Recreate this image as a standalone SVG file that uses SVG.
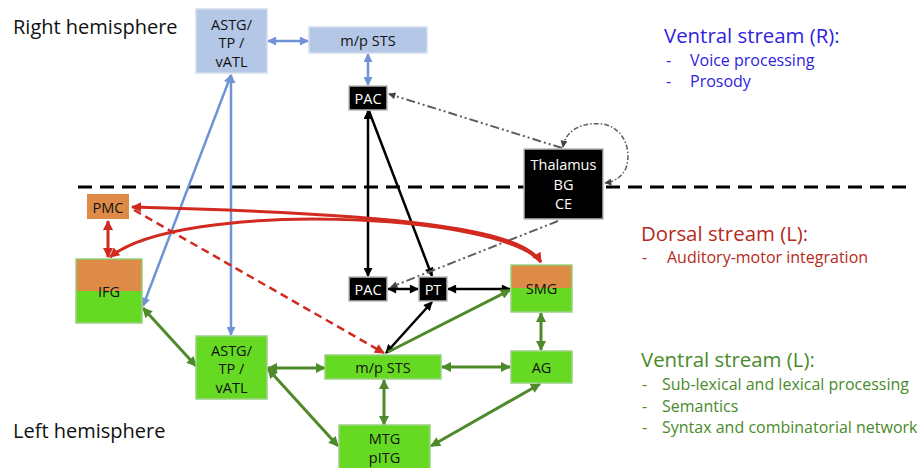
<svg xmlns="http://www.w3.org/2000/svg" width="917" height="468" viewBox="0 0 917 468">
<style>
  text { font-family: "Open Sans", "Liberation Sans", sans-serif; }
  .node { font-size: 14.5px; text-anchor: middle; fill: #111; }
  .wt { fill: #fff; }
  .blue { fill: #B4C7E7; stroke: #D3DCEC; stroke-width: 1.5; }
  .green { fill: #66DA22; stroke: #9BCF85; stroke-width: 1.5; }
  .orange { fill: #DE8B47; stroke: none; }
  .blk { fill: #000; stroke: #B8B8B8; stroke-width: 1.5; }
  .hemi { font-size: 20px; fill: #111; }
  .h1 { font-size: 20.4px; }
  .li { font-size: 16px; }
  .cb { stroke: #6F93D5; stroke-width: 2.5; fill: none; }
  .cg { stroke: #4E8A2A; stroke-width: 3; fill: none; }
  .ck { stroke: #000; stroke-width: 2.5; fill: none; }
  .cr { stroke: #D12A1F; stroke-width: 3; fill: none; }
  .crd { stroke: #D12A1F; stroke-width: 2.5; fill: none; stroke-dasharray: 8 5; }
  .cd { stroke: #5E5E5E; stroke-width: 2; fill: none; stroke-dasharray: 9 3 2 3 2 3; }
  .cdl { stroke: #5E5E5E; stroke-width: 1.5; fill: none; stroke-dasharray: 5 2 1.5 2; }
</style>
<defs>
  <marker id="ab" viewBox="0 0 10 10" refX="9" refY="5" markerWidth="10" markerHeight="9" markerUnits="userSpaceOnUse" orient="auto-start-reverse"><path d="M0,0 L10,5 L0,10 z" fill="#6F93D5"/></marker>
  <marker id="ag" viewBox="0 0 10 10" refX="9" refY="5" markerWidth="11" markerHeight="10" markerUnits="userSpaceOnUse" orient="auto-start-reverse"><path d="M0,0 L10,5 L0,10 z" fill="#4E8A2A"/></marker>
  <marker id="ak" viewBox="0 0 10 10" refX="9" refY="5" markerWidth="10" markerHeight="9" markerUnits="userSpaceOnUse" orient="auto-start-reverse"><path d="M0,0 L10,5 L0,10 z" fill="#000"/></marker>
  <marker id="ar" viewBox="0 0 10 10" refX="9" refY="5" markerWidth="11" markerHeight="10" markerUnits="userSpaceOnUse" orient="auto-start-reverse"><path d="M0,0 L10,5 L0,10 z" fill="#D12A1F"/></marker>
  <marker id="ad" viewBox="0 0 10 10" refX="9" refY="5" markerWidth="8" markerHeight="7" markerUnits="userSpaceOnUse" orient="auto-start-reverse"><path d="M0,0 L10,5 L0,10 z" fill="#444"/></marker>
</defs>

<!-- hemisphere divider -->
<line x1="78" y1="187" x2="906" y2="187" stroke="#000" stroke-width="3" stroke-dasharray="14 8"/>

<text class="hemi" x="13" y="34">Right hemisphere</text>
<text class="hemi" x="13" y="438">Left hemisphere</text>

<g id="legend-ventral-r">
  <text class="h1" x="664" y="43" fill="#2F22E0">Ventral stream (R):</text>
  <text class="li" x="666" y="66" fill="#2F22E0">-</text>
  <text class="li" x="690" y="66" fill="#2F22E0">Voice processing</text>
  <text class="li" x="666" y="87" fill="#2F22E0">-</text>
  <text class="li" x="690" y="87" fill="#2F22E0">Prosody</text>
</g>
<g id="legend-dorsal">
  <text class="h1" x="641" y="241" fill="#B42A22">Dorsal stream (L):</text>
  <text class="li" x="642" y="263" fill="#B42A22">-</text>
  <text class="li" x="667" y="263" fill="#B42A22">Auditory-motor integration</text>
</g>
<g id="legend-ventral-l">
  <text class="h1" x="641" y="367" fill="#4A8A2A">Ventral stream (L):</text>
  <text class="li" x="642" y="390" fill="#4A8A2A">-</text>
  <text class="li" x="662" y="390" fill="#4A8A2A">Sub-lexical and lexical processing</text>
  <text class="li" x="642" y="412" fill="#4A8A2A">-</text>
  <text class="li" x="662" y="412" fill="#4A8A2A">Semantics</text>
  <text class="li" x="642" y="433" fill="#4A8A2A">-</text>
  <text class="li" x="662" y="433" fill="#4A8A2A">Syntax and combinatorial network</text>
</g>

<g id="connectors">
  <!-- blue (right ventral) -->
  <line class="cb" x1="268" y1="41" x2="308" y2="41" marker-start="url(#ab)" marker-end="url(#ab)"/>
  <line class="cb" x1="368" y1="54" x2="368" y2="85" marker-start="url(#ab)" marker-end="url(#ab)"/>
  <line class="cb" x1="231" y1="75" x2="231" y2="335" marker-start="url(#ab)" marker-end="url(#ab)"/>
  <line class="cb" x1="231" y1="75" x2="143" y2="306" marker-start="url(#ab)" marker-end="url(#ab)"/>

  <!-- black (auditory) -->
  <line class="ck" x1="368" y1="111" x2="368" y2="276" marker-start="url(#ak)" marker-end="url(#ak)"/>
  <line class="ck" x1="369" y1="111" x2="432" y2="276" marker-end="url(#ak)"/>
  <line class="ck" x1="388" y1="289" x2="418" y2="289" marker-start="url(#ak)" marker-end="url(#ak)"/>
  <line class="ck" x1="448" y1="289" x2="510" y2="289" marker-start="url(#ak)" marker-end="url(#ak)"/>
  <line class="ck" x1="432" y1="302" x2="386" y2="353" marker-start="url(#ak)" marker-end="url(#ak)"/>

  <!-- grey dash-dot (thalamus) -->
  <line class="cd" x1="562" y1="148" x2="389" y2="94" marker-end="url(#ad)"/>
  <line class="cd" x1="558" y1="221" x2="391" y2="287" marker-end="url(#ad)"/>
  <path class="cdl" d="M563,147 C566,128 585,122 603,124 C624,128 632,150 626,168 C621,179 612,182 605,183" marker-start="url(#ad)" marker-end="url(#ad)"/>

  <!-- red (dorsal) -->
  <path class="cr" d="M541,262 C520,228 400,214 132,207" marker-start="url(#ar)" marker-end="url(#ar)"/>
  <path class="cr" d="M541,262 C500,212 180,200 110,257" marker-end="url(#ar)"/>
  <line class="cr" x1="108" y1="221" x2="108" y2="257" marker-start="url(#ar)" marker-end="url(#ar)"/>
  <line class="crd" x1="134" y1="210" x2="384" y2="353" marker-end="url(#ar)"/>

  <!-- green (left ventral) -->
  <line class="cg" x1="388" y1="352" x2="510" y2="290" marker-end="url(#ag)"/>
  <line class="cg" x1="143" y1="308" x2="196" y2="366" marker-start="url(#ag)" marker-end="url(#ag)"/>
  <line class="cg" x1="268" y1="368" x2="325" y2="368" marker-start="url(#ag)" marker-end="url(#ag)"/>
  <line class="cg" x1="268" y1="369" x2="338" y2="446" marker-start="url(#ag)" marker-end="url(#ag)"/>
  <line class="cg" x1="384" y1="380" x2="384" y2="425" marker-start="url(#ag)" marker-end="url(#ag)"/>
  <line class="cg" x1="442" y1="367" x2="510" y2="367" marker-start="url(#ag)" marker-end="url(#ag)"/>
  <line class="cg" x1="431" y1="446" x2="540" y2="384" marker-start="url(#ag)" marker-end="url(#ag)"/>
  <line class="cg" x1="541" y1="313" x2="541" y2="350" marker-start="url(#ag)" marker-end="url(#ag)"/>
</g>

<g id="r-astg">
  <rect class="blue" x="196" y="9" width="71" height="64"/>
  <text class="node" x="231.5" y="30">ASTG/</text>
  <text class="node" x="231.5" y="48">TP /</text>
  <text class="node" x="231.5" y="67">vATL</text>
</g>
<g id="r-mpsts">
  <rect class="blue" x="309" y="27" width="118" height="26"/>
  <text class="node" x="368" y="46">m/p STS</text>
</g>
<g id="r-pac">
  <rect class="blk" x="349" y="86" width="38" height="24"/>
  <text class="node wt" x="368" y="104">PAC</text>
</g>
<g id="thalamus">
  <rect class="blk" x="524" y="149" width="79" height="70"/>
  <text class="node wt" x="563.5" y="170">Thalamus</text>
  <text class="node wt" x="563.5" y="190">BG</text>
  <text class="node wt" x="563.5" y="209">CE</text>
</g>
<g id="pmc">
  <rect class="orange" x="87" y="194" width="42" height="25" stroke="#CFCFCF" stroke-width="1.5"/>
  <text class="node" x="108" y="213">PMC</text>
</g>
<g id="ifg">
  <rect class="green" x="76" y="259" width="66" height="64"/>
  <rect class="orange" x="76.75" y="259.75" width="64.5" height="31.25"/>
  <text class="node" x="109" y="297">IFG</text>
</g>
<g id="l-pac">
  <rect class="blk" x="349" y="277" width="38" height="24"/>
  <text class="node wt" x="368" y="295">PAC</text>
</g>
<g id="pt">
  <rect class="blk" x="419" y="277" width="28" height="24"/>
  <text class="node wt" x="433" y="295">PT</text>
</g>
<g id="smg">
  <rect class="green" x="511" y="265" width="61" height="47"/>
  <rect class="orange" x="511.75" y="265.75" width="59.5" height="22.25"/>
  <text class="node" x="541.5" y="294">SMG</text>
</g>
<g id="l-astg">
  <rect class="green" x="196" y="336" width="71" height="63"/>
  <text class="node" x="231.5" y="356">ASTG/</text>
  <text class="node" x="231.5" y="374">TP /</text>
  <text class="node" x="231.5" y="393">vATL</text>
</g>
<g id="l-mpsts">
  <rect class="green" x="325" y="355" width="116" height="24"/>
  <text class="node" x="383" y="373">m/p STS</text>
</g>
<g id="ag-node">
  <rect class="green" x="511" y="351" width="61" height="32"/>
  <text class="node" x="541.5" y="373">AG</text>
</g>
<g id="mtg">
  <rect class="green" x="339" y="425" width="91" height="48"/>
  <text class="node" x="384.5" y="444">MTG</text>
  <text class="node" x="384.5" y="463">pITG</text>
</g>
</svg>
